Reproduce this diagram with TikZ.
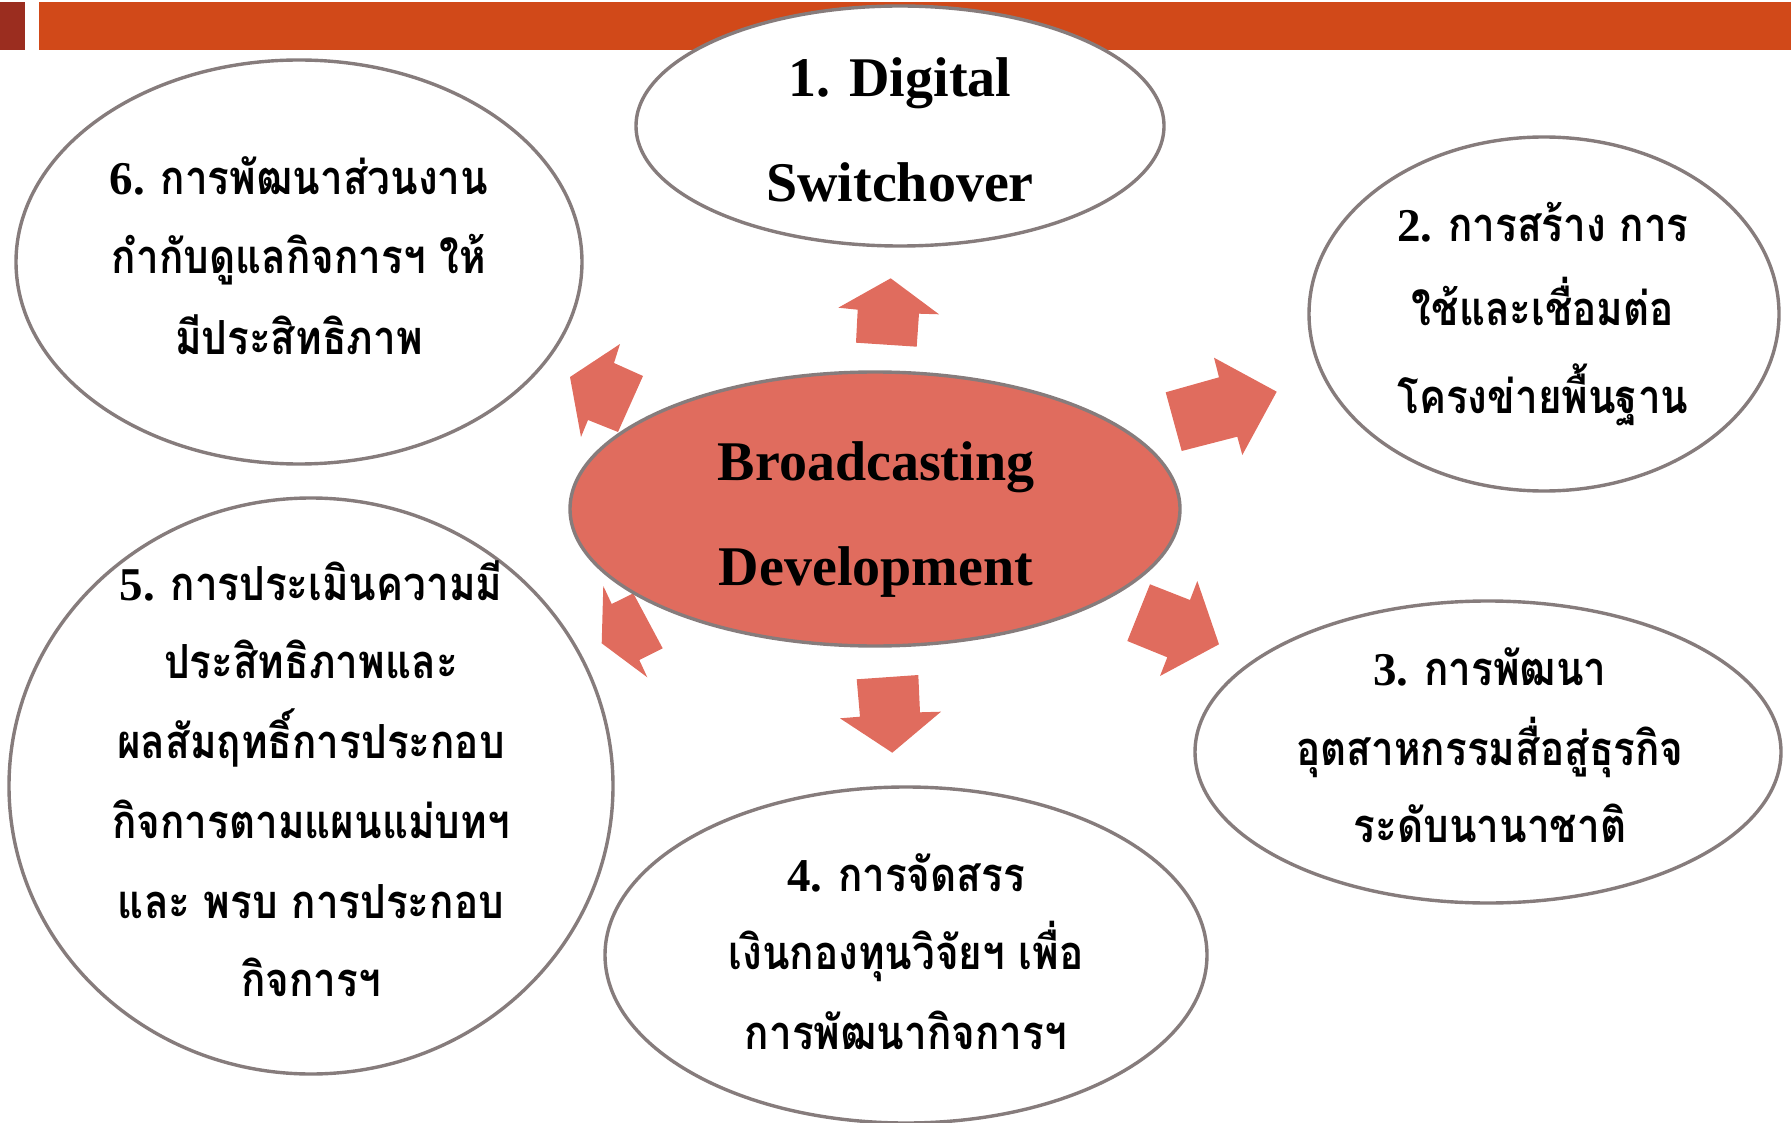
\documentclass[tikz,border=0pt]{standalone}
\usepackage{fontspec}
\usetikzlibrary{shapes.geometric}
\setmainfont{Liberation Serif}
\newfontfamily\thaifont[Script=Thai,FakeStretch=0.86]{Loma}
\newfontfamily\numfont{Liberation Serif}
\definecolor{barorange}{RGB}{209,73,25}
\definecolor{bardark}{RGB}{155,45,31}
\definecolor{hubred}{RGB}{224,108,94}
\definecolor{edgegray}{RGB}{134,124,124}
\begin{document}
\begin{tikzpicture}[x=1pt,y=-1pt,
  bubble/.style={ellipse, draw=edgegray, line width=3.4pt, fill=white, inner sep=0pt, outer sep=0pt},
  hub/.style={bubble, fill=hubred},
  blockarrow/.style={fill=hubred, draw=none},
  tline/.style={font=\thaifont\bfseries\fontsize{47}{47}\selectfont, inner sep=0pt, anchor=base},
  eline/.style={font=\bfseries\fontsize{56}{56}\selectfont, inner sep=0pt, anchor=base}]
\useasboundingbox (0,0) rectangle (1791,1123);
% top bar
\fill[bardark] (0,2) rectangle (25,50);
\fill[barorange] (39,2) rectangle (1791,50);
% block arrows
\fill[blockarrow] (890.7,278.3) -- (939,314.3) -- (919,313.7) -- (916.7,346.7) -- (856,342.7) -- (857.7,309.7) -- (838.3,307.7) -- cycle;
\fill[blockarrow] (1214,357.7) -- (1276.7,391.7) -- (1242.3,455) -- (1237.3,436.7) -- (1181.7,451) -- (1165.7,392.3) -- (1219,377.3) -- cycle;
\fill[blockarrow] (1150,584.3) -- (1190,600) -- (1197.3,581) -- (1219,644.3) -- (1160,676) -- (1167.3,657.3) -- (1127.3,641) -- cycle;
\fill[blockarrow] (856.7,679.3) -- (918.3,675) -- (920,712.3) -- (941,711.7) -- (892.3,752.7) -- (840,718.3) -- (860,716.7) -- cycle;
\fill[blockarrow] (603.3,586) -- (611.7,604) -- (633.3,593.3) -- (662.7,648.3) -- (639.3,660) -- (647.3,677.3) -- (601.7,643.3) -- cycle;
\fill[blockarrow] (570,377) -- (620,344) -- (614,363) -- (643,376) -- (618,432) -- (588,420) -- (581,437) -- cycle;
% ellipses
\node[bubble, minimum width=528pt, minimum height=240pt] (e1) at (900,126) {};
\node[bubble, minimum width=566pt, minimum height=404pt] (e6) at (299,262) {};
\node[bubble, minimum width=470pt, minimum height=354pt] (e2) at (1544,314) {};
\node[bubble, minimum width=604pt, minimum height=576pt] (e5) at (311,786) {};
\node[bubble, minimum width=586pt, minimum height=302pt] (e3) at (1488,752) {};
\node[bubble, minimum width=602pt, minimum height=336pt] (e4) at (906,955) {};
\node[hub, minimum width=610pt, minimum height=274pt] (hub) at (875,509) {};
% texts
\node[eline] (t1a) at (900,97) {1. Digital};
\node[eline] (t1b) at (900,202) {Switchover};
\node[eline] (tca) at (876,480) {Broadcasting};
\node[eline] (tcb) at (876,585) {Development};
\node[tline] (t6a) at (299,195) {{\numfont 6. }การพัฒนาส่วนงาน};
\node[tline] (t6b) at (299,274) {กำกับดูแลกิจการฯ ให้};
\node[tline] (t6c) at (299,354) {มีประสิทธิภาพ};
\node[tline] (t2a) at (1543,242) {{\numfont 2. }การสร้าง การ};
\node[tline] (t2b) at (1543,326) {ใช้และเชื่อมต่อ};
\node[tline] (t2c) at (1543,413) {โครงข่ายพื้นฐาน};
\node[tline] (t3a) at (1490,685) {{\numfont 3. }การพัฒนา};
\node[tline] (t3b) at (1490,765) {อุตสาหกรรมสื่อสู่ธุรกิจ};
\node[tline] (t3c) at (1490,842) {ระดับนานาชาติ};
\node[tline] (t4a) at (906,891) {{\numfont 4. }การจัดสรร};
\node[tline] (t4b) at (906,969) {เงินกองทุนวิจัยฯ เพื่อ};
\node[tline] (t4c) at (906,1049) {การพัฒนากิจการฯ};
\node[tline] (t5a) at (311,600) {{\numfont 5. }การประเมินความมี};
\node[tline] (t5b) at (311,678) {ประสิทธิภาพและ};
\node[tline] (t5c) at (311,758) {ผลสัมฤทธิ์การประกอบ};
\node[tline] (t5d) at (311,838) {กิจการตามแผนแม่บทฯ};
\node[tline] (t5e) at (311,918) {และ พรบ การประกอบ};
\node[tline] (t5f) at (311,996) {กิจการฯ};
\end{tikzpicture}
\end{document}
